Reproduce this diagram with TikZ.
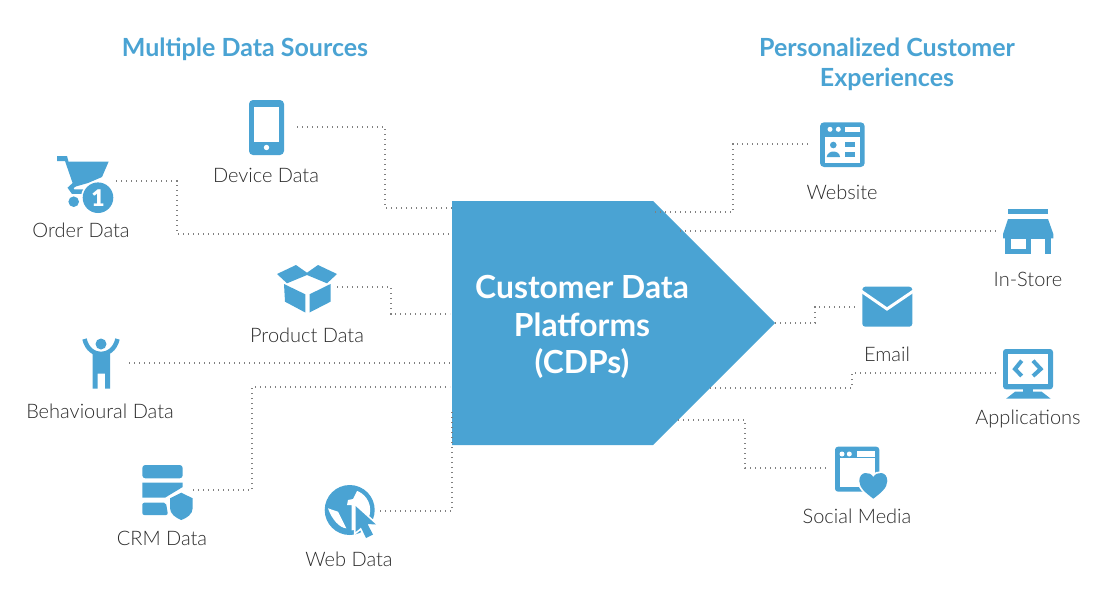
\documentclass[tikz,border=0pt]{standalone}
\usepackage{fontspec}
\setmainfont{Lato}[UprightFont=* Light,BoldFont=* Bold]
\newfontfamily\badgefont{Lato Black}
\usetikzlibrary{positioning}
\definecolor{cdpblue}{HTML}{4AA3D3}
\definecolor{labelgrey}{HTML}{2B2B2B}
\tikzset{
 link/.style={draw=black!50, line width=1.3pt, dash pattern=on 1.3pt off 3.7pt},
 lab/.style={text=labelgrey, font=\fontsize{20}{24}\selectfont, inner sep=0pt},
 head/.style={text=cdpblue, font=\fontsize{25}{30}\selectfont\bfseries, align=center, inner sep=0pt},
 ico/.style={fill=cdpblue, draw=none},
 halo/.style={preaction={draw=white, line width=3.5pt}, fill=cdpblue},
 cut/.style={fill=white, draw=none}
}
\begin{document}
\begin{tikzpicture}[x=1pt,y=-1pt]
\useasboundingbox (0,0) rectangle (1110,590);

\fill[cdpblue] (452,201) -- (653,201) -- (775,323) -- (653,445) -- (452,445) -- cycle;
\node[text=white, font=\fontsize{31.8}{37.5}\selectfont\bfseries, align=center, inner sep=0pt] (cdp) at (582,327) {Customer Data\\Platforms\\(CDPs)};

\node[head] (sources) at (245,49) {Multiple Data Sources};
\node[head] (experiences) at (887,64) {Personalized Customer\\Experiences};

\foreach \n/\x/\y/\t in {device/266/175/Device Data, order/81/230/Order Data, product/307/335/Product Data,
  behaviour/100/411/Behavioural Data, crm/162/538/CRM Data, web/349/559/Web Data, website/842/192/Website,
  store/1028/279/In-Store, email/887/354/Email, apps/1028/419/Applications, social/857/516/Social Media}{
\node[lab] (\n) at (\x,\y) {\t};};

% connectors: start x, start y, bend x, end x, end y
\foreach \n/\a/\b/\c/\d/\e in {device/297/127/385/452/208, order/116/181/177/452/234, product/337/287/391/450/314,
  crm/193/490/252/450/387, website/655/212/733/810/144, email/775/323/815/855/307,
  apps/710/388/852/998/373, social/678/420/745/827/468}{
\coordinate (\n-out) at (\a,\b);
\coordinate (\n-mid) at (\c,\e);
\coordinate (\n-in) at (\d,\e);
\draw[link] (\n-out) -| (\n-mid) -- (\n-in);};
\coordinate (web-out) at (380,511);
\coordinate (web-in) at (452,412);
\draw[link] (web-out) -| (web-in);
\coordinate (behaviour-out) at (129,363);
\coordinate (behaviour-in) at (450,363);
\draw[link] (behaviour-out) -- (behaviour-in);
\coordinate (store-out) at (680,231);
\coordinate (store-in) at (998,231);
\draw[link] (store-out) -- (store-in);

% phone
\fill[ico, rounded corners=4pt] (249,100) rectangle (284,155);
\fill[cut] (254,107) rectangle (279,142);
\fill[cut] (266.5,147.5) circle (2.7);

% cart
\fill[ico] (57,156) -- (67,156) -- (68.5,161.5) -- (108.7,161.5) -- (102,177) -- (88,183) -- (74,187) -- (65,161) -- (57,161) -- cycle;
\draw[cdpblue, line width=4.5pt] (76,183) -- (70.5,188) -- (73,191.5) -- (84,191.5);
\fill[ico] (73.7,201.7) circle (5.3);
\fill[cut] (98,197.7) circle (17);
\fill[ico] (98,197.7) circle (15.3);
\node[text=white, font=\fontsize{23}{23}\selectfont\badgefont, inner sep=0pt] (badge) at (98,197.7) {1};

% box
\fill[ico] (277,274) -- (296,265) -- (307,272.7) -- (318,265) -- (337,274) -- (327,283.3) -- (307,275) -- (287,283.3) -- cycle;
\fill[ico] (284,284) -- (305.3,294.3) -- (305.3,312.5) -- (285,301.7) -- cycle;
\fill[ico] (330.5,284) -- (309.5,294.3) -- (309.5,312.5) -- (330.5,301.7) -- cycle;

% person
\fill[ico] (101,344) circle (5.5);
\draw[cdpblue, line width=4.5pt] (84.5,339) .. controls (87,350) and (95,354) .. (101,354) .. controls (107,354) and (115,350) .. (117.5,339);
\fill[ico] (92.5,354) -- (110,354) -- (110,388.7) -- (105,388.7) -- (105,373.5) -- (97.5,373.5) -- (97.5,388.7) -- (92.5,388.7) -- cycle;

% crm
\fill[ico, rounded corners=3pt] (142.3,465) -- (182.7,465) -- (182.7,478.3) -- (142.3,478.3) -- cycle;
\fill[ico] (142.3,482.7) -- (182.7,482.7) -- (182.7,487) -- (165,497.7) -- (142.3,497.7) -- cycle;
\fill[ico, rounded corners=2pt] (142.3,502.7) -- (166,502.7) -- (168,515) -- (142.3,515) -- cycle;
\fill[ico] (181.3,492.7) -- (170,498.3) -- (170,508) .. controls (170,514) and (176,518) .. (181.3,520) .. controls (187,518) and (192.7,514) .. (192.7,508) -- (192.7,498.3) -- cycle;

% globe
\fill[ico] (349.7,510) circle (25);
\begin{scope}
\clip (349.7,510) circle (20.5);
\fill[cut] (351.5,536) -- (351.5,505) -- (347,505) -- (348,500) -- (353,499) -- (357,491) -- (375,491) -- (375,536) -- cycle;
\end{scope}
\fill[cut] (328,508.3) -- (338,511.7) -- (346.3,528.3) .. controls (340,528) and (332,520) .. (328,508.3);
\path[halo] (355.5,506) -- (376,524.5) -- (367.5,524) -- (373,534.5) -- (366,538) -- (361,527.5) -- (355.5,532) -- cycle;

% website
\fill[ico, rounded corners=4pt] (820,122.3) rectangle (864.7,167);
\fill[cut] (830,129.3) circle (2.5) (838.3,129.3) circle (2.5);
\fill[cut] (844.7,126.7) rectangle (860,132);
\fill[cut] (825,136.7) rectangle (860,162.7);
\fill[ico] (833.3,145) circle (3.3);
\fill[ico] (826.7,157) .. controls (827,153) and (831,151.5) .. (833.3,151.5) .. controls (836,151.5) and (840,153) .. (840,157) -- cycle;
\fill[ico] (844.7,142.3) rectangle (854.7,147.3);
\fill[ico] (844.7,152.3) rectangle (854.7,157.3);

% store
\fill[ico] (1008,208.7) rectangle (1048,214);
\fill[ico] (1008,219) -- (1048,219) -- (1053.3,234) -- (1053.3,238.3) -- (1003,238.3) -- (1003,234) -- cycle;
\fill[ico] (1005.3,238) rectangle (1050.7,254);
\fill[cut] (1010.7,239) rectangle (1025.7,248.7);
\fill[cut] (1030.7,239) rectangle (1045.3,254);

% email
\fill[ico, rounded corners=3pt] (862.3,286.7) rectangle (912.3,326.7);
\draw[white, line width=3pt] (861,291) -- (887,309) -- (913.5,291);

% applications
\fill[ico, rounded corners=3pt] (1003,349) rectangle (1053,389.3);
\fill[cut] (1008.3,354) rectangle (1048,384.3);
\draw[cdpblue, line width=4pt] (1021.7,360.7) -- (1015,369) -- (1021.7,376);
\draw[cdpblue, line width=4pt] (1033,360.7) -- (1040.7,369) -- (1033,376);
\fill[ico] (1022.7,389) rectangle (1033.3,392);
\fill[ico] (1015,391.7) -- (1041.7,391.7) -- (1050.7,398.7) -- (1006,398.7) -- cycle;

% social
\fill[ico, rounded corners=3pt] (835,446.7) rectangle (879.3,491.7);
\fill[cut] (840,458.3) rectangle (874.7,486.7);
\fill[cut] (842,454) circle (2.5) (849.3,454) circle (2.5);
\fill[cut] (857.3,451.3) rectangle (874.7,456.7);
\path[halo] (873.3,498.7) .. controls (866,493) and (859.3,488) .. (859.3,481) .. controls (859.3,471) and (870,471) .. (873.3,477) .. controls (876.6,471) and (887.3,471) .. (887.3,481) .. controls (887.3,488) and (880.6,493) .. (873.3,498.7) -- cycle;
\end{tikzpicture}
\end{document}
